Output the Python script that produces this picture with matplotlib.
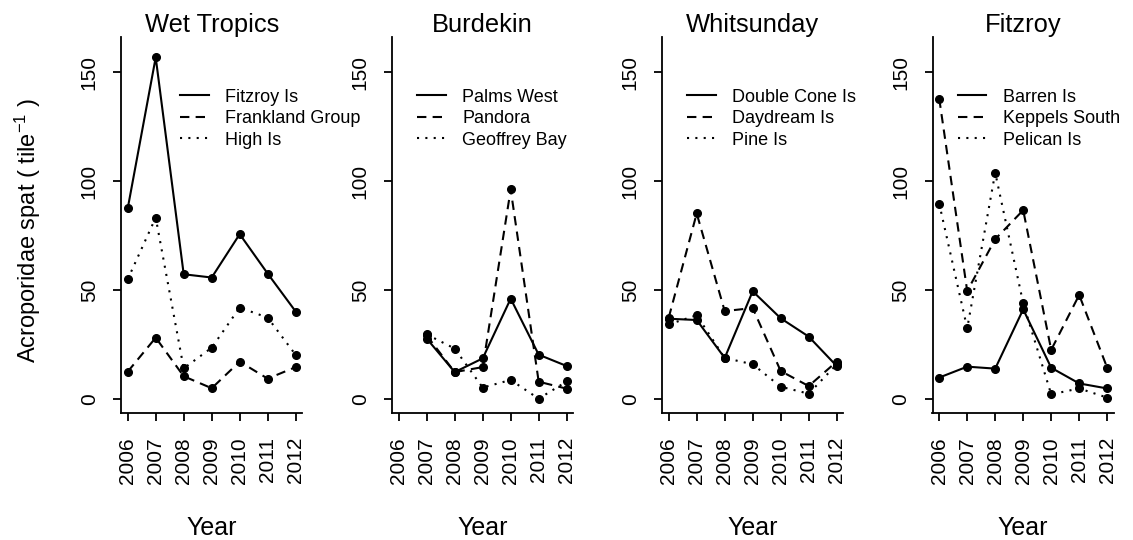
import numpy as np
import matplotlib.pyplot as plt
from matplotlib.lines import Line2D

plt.rcParams['font.family'] = ['Liberation Sans', 'DejaVu Sans']
plt.rcParams['mathtext.fontset'] = 'custom'
plt.rcParams['mathtext.rm'] = 'Liberation Sans'
plt.rcParams['mathtext.it'] = 'Liberation Sans:italic'

# --- data ---
years = [2006, 2007, 2008, 2009, 2010, 2011, 2012]
region_names = ['Wet Tropics', 'Burdekin', 'Whitsunday', 'Fitzroy']

# Wet Tropics
fitzroy_is = [87.6, 156.9, 57.4, 55.9, 75.8, 57.7, 40.3]
frankland_group = [12.7, 28.3, 10.6, 5.1, 17.3, 9.5, 14.8]
high_is = [55.1, 83.4, 14.2, 23.7, 42.1, 37.5, 20.4]

# Burdekin (no 2006 survey)
palms_west = [np.nan, 27.9, 12.5, 18.8, 46.2, 20.5, 15.3]
pandora = [np.nan, 29.3, 12.5, 14.8, 96.3, 8.1, 4.9]
geoffrey_bay = [np.nan, 29.8, 23.3, 5.4, 8.9, 0.3, 8.2]

# Whitsunday
double_cone_is = [37.0, 36.4, 19.0, 49.6, 37.2, 28.8, 15.3]
daydream_is = [37.5, 85.3, 40.5, 41.9, 13.0, 6.1, 17.3]
pine_is = [34.4, 38.6, 19.0, 16.1, 5.8, 2.6, 16.0]

# Fitzroy
barren_is = [10.0, 15.0, 14.1, 41.3, 14.5, 7.3, 5.0]
keppels_south = [138.0, 49.7, 73.5, 86.8, 22.7, 47.9, 14.5]
pelican_is = [89.8, 32.6, 104.0, 44.1, 2.3, 5.0, 0.8]

site_names = [
    ['Fitzroy Is', 'Frankland Group', 'High Is'],
    ['Palms West', 'Pandora', 'Geoffrey Bay'],
    ['Double Cone Is', 'Daydream Is', 'Pine Is'],
    ['Barren Is', 'Keppels South', 'Pelican Is'],
]
site_values = [
    [fitzroy_is, frankland_group, high_is],
    [palms_west, pandora, geoffrey_bay],
    [double_cone_is, daydream_is, pine_is],
    [barren_is, keppels_south, pelican_is],
]
yticks = [0, 50, 100, 150]

# --- layout (pixels of a 1133x540 canvas) ---
W, H = 1133, 540
fig = plt.figure(figsize=(W / 100, H / 100), dpi=100)

line_styles = ['-', (0, (4.5, 3)), (0, (1, 3))]
panel_left = [121, 392, 662, 932.5]
ax_w, ax_top, ax_bot = 181.4, 36.7, 413.3
legend_x = [0.325, 0.138, 0.138, 0.138]

for i, region in enumerate(region_names):
    ax = fig.add_axes([panel_left[i] / W, (H - ax_bot) / H,
                       ax_w / W, (ax_bot - ax_top) / H])
    handles = []
    for name, vals, ls in zip(site_names[i], site_values[i], line_styles):
        ax.plot(years, vals, color='black', lw=1.5, linestyle=ls)
        ax.plot(years, vals, 'o', color='black', ms=5.5)
        handles.append(Line2D([], [], color='black', lw=1.5, linestyle=ls, label=name))

    ax.set_xlim(2005.76, 2012.24)
    ax.set_ylim(-6.4, 166.4)
    ax.set_xticks(years)
    ax.set_xticklabels([str(y) for y in years], rotation=90)
    ax.set_yticks(yticks)
    ax.set_yticklabels([str(v) for v in yticks], rotation=90, va='center')
    ax.tick_params(axis='both', direction='out', length=5.5, width=1.3,
                   labelsize=15)
    ax.tick_params(axis='y', pad=10.5)
    ax.tick_params(axis='x', pad=11.5)
    for side in ['top', 'right']:
        ax.spines[side].set_visible(False)
    for side in ['left', 'bottom']:
        ax.spines[side].set_linewidth(1.3)

    ax.set_title(region, fontsize=18.4, pad=2.5)
    ax.legend(handles=handles, loc='upper left',
              bbox_to_anchor=(legend_x[i], 0.862), frameon=False,
              fontsize=13, borderpad=0, borderaxespad=0,
              handlelength=1.6, handletextpad=0.9, labelspacing=0.25)

    cx = (panel_left[i] + ax_w / 2) / W
    fig.text(cx, (H - 534.6) / H, 'Year', fontsize=18, ha='center', va='baseline')

fig.text(28 / W, (H - 231) / H, r'Acroporidae spat ( tile$^{-1}$ )', fontsize=17,
         rotation=90, ha='center', va='center')

fig.savefig('out.png', dpi=100)
